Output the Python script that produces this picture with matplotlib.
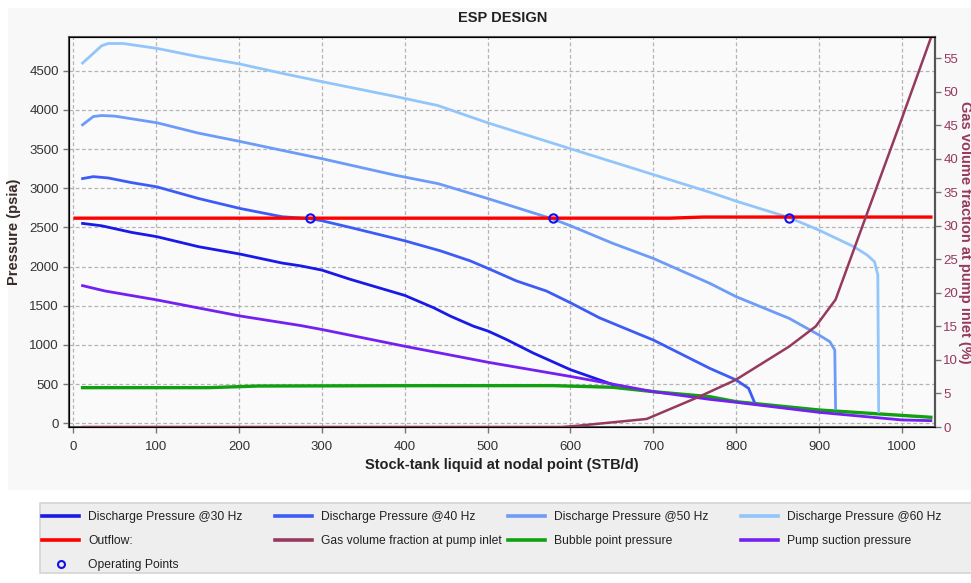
import matplotlib
matplotlib.use("Agg")
import matplotlib.pyplot as plt
from matplotlib.lines import Line2D
from matplotlib.patches import Rectangle

plt.rcParams['font.family'] = ['Liberation Sans', 'DejaVu Sans']

# discharge pressure curves (STB/d, psia)
q_30 = [11, 34, 70, 101, 151, 201, 252, 274, 300, 334, 400, 435, 455, 483, 501, 523, 555,
        600, 651]
p_30 = [2551, 2521, 2437, 2381, 2254, 2160, 2045, 2010, 1955, 1838, 1632, 1474, 1368, 1239,
        1175, 1068, 897, 684, 495]

q_40 = [11, 24, 42, 70, 101, 151, 201, 252, 285, 300, 334, 400, 443, 479, 501, 535,
        571, 600, 635, 684, 700, 768, 800, 815, 822]
p_40 = [3123, 3148, 3131, 3072, 3017, 2869, 2742, 2636, 2612, 2585, 2500, 2329, 2201,
        2073, 1974, 1816, 1688, 1538, 1346, 1132, 1063, 702, 553, 446, 270]

q_50 = [11, 24, 34, 50, 101, 151, 201, 252, 300, 389, 440, 500, 579, 600, 651, 700,
        768, 800, 864, 900, 913, 919, 920]
p_50 = [3809, 3915, 3928, 3920, 3835, 3703, 3597, 3483, 3377, 3165, 3059, 2869, 2606,
        2521, 2297, 2104, 1787, 1616, 1339, 1127, 1042, 935, 190]

q_60 = [11, 34, 42, 60, 101, 151, 201, 252, 300, 389, 440, 500, 600, 700, 767, 800,
        864, 900, 942, 958, 967, 971, 972]
p_60 = [4597, 4818, 4847, 4847, 4784, 4678, 4585, 4466, 4360, 4170, 4055, 3835, 3504,
        3174, 2953, 2835, 2625, 2465, 2254, 2148, 2062, 1892, 149]

q_outflow = [2, 720, 760, 1035]
p_outflow = [2618, 2618, 2632, 2632]

q_bubble = [11, 163, 223, 389, 579, 651, 700, 768, 800, 900, 1035]
p_bubble = [455, 455, 476, 480, 481, 460, 404, 340, 276, 170, 77]

q_suction = [11, 38, 101, 201, 274, 300, 400, 501, 600, 649, 700, 768, 800, 900, 1000, 1035]
p_suction = [1757, 1689, 1574, 1370, 1248, 1197, 983, 778, 598, 504, 404, 306, 268, 140, 43, 34]

# gas volume fraction at pump inlet (%)
q_gas = [12, 590, 610, 692, 755, 799, 864, 896, 920, 957, 1000, 1035]
gvf = [0, 0, 0.2, 1.2, 4.5, 7, 12, 15, 19, 31.5, 46, 58]

# operating points
q_op = [285, 579, 864]
p_op = [2620, 2620, 2625]

c30, c40, c50, c60 = '#1a1ae6', '#3d5cf5', '#6c9cf7', '#92c6fb'
c_out, c_gas, c_bub, c_suc = '#ff0000', '#96395f', '#10a010', '#7420f0'
c_txt = '#333333'

fig = plt.figure(figsize=(9.71, 5.83), dpi=100)
fig.patch.set_facecolor('white')
W, H = 971, 583
fig.patches.append(Rectangle((8 / W, 1 - 490 / H), 1, 482 / H, transform=fig.transFigure,
                             facecolor='#f8f8f8', edgecolor='none', zorder=-10))
fig.patches.append(Rectangle((40 / W, 1 - 573 / H), 1, 70 / H, transform=fig.transFigure,
                             facecolor='#eeeeee', edgecolor='#d4d4d4', lw=1.2, zorder=-10))

ax = fig.add_axes([69.3 / W, 1 - 427 / H, (935 - 69.3) / W, (427 - 37.3) / H])
ax.set_facecolor('#fafafa')
ax2 = ax.twinx()

lw = 2.0
ax.plot(q_30, p_30, color=c30, lw=lw, zorder=4)
ax.plot(q_40, p_40, color=c40, lw=lw, zorder=4)
ax.plot(q_50, p_50, color=c50, lw=lw, zorder=4)
ax.plot(q_60, p_60, color=c60, lw=lw, zorder=4)
ax.plot(q_outflow, p_outflow, color=c_out, lw=2.4, zorder=5)
ax.plot(q_bubble, p_bubble, color=c_bub, lw=2.4, zorder=3)
ax.plot(q_suction, p_suction, color=c_suc, lw=2.0, zorder=4)
ax.plot(q_op, p_op, ls='none', marker='o', ms=6, mfc='none', mec='#1010f0', mew=1.5, zorder=6)
ax2.plot(q_gas, gvf, color=c_gas, lw=1.8)

ax.set_xlim(-5, 1040)
ax.set_ylim(-47, 4926)
ax2.set_ylim(0, 58.1)
ax.set_xticks(range(0, 1001, 100))
ax.set_yticks(range(0, 4501, 500))
ax2.set_yticks(range(0, 56, 5))

ax.grid(True, ls=(0, (3, 2)), color='#b4b4b4', lw=0.9)
ax.set_axisbelow(True)

for s in ax.spines.values():
    s.set_color('#555555')
    s.set_linewidth(1.5)
ax2.spines['right'].set_color('#555555')
ax2.spines['right'].set_linewidth(1.5)

ax.tick_params(axis='both', labelsize=9.5, colors='#777777', labelcolor=c_txt, length=4, width=1)
ax.tick_params(axis='x', pad=6)
ax2.tick_params(axis='y', labelsize=9.5, colors='#777777', labelcolor=c_gas, length=4, width=1, pad=2)

ax.set_xlabel('Stock-tank liquid at nodal point (STB/d)', fontsize=10.5, fontweight='bold',
              color='#222222', labelpad=4)
ax.set_ylabel('Pressure (psia)', fontsize=10.5, fontweight='bold', color='#3a2a2a', labelpad=6)
ax2.set_ylabel('Gas volume fraction at pump inlet (%)', fontsize=10.5, fontweight='bold',
               color=c_gas, rotation=270, labelpad=10)

fig.text(503 / W, 1 - 18 / H, 'ESP DESIGN', ha='center', va='center', fontsize=10.5,
         fontweight='bold', color='#222222')

# legend, one column at a time
cols = [
    [('Discharge Pressure @30 Hz', c30, None), ('Outflow:', c_out, None), ('Operating Points', '#1010f0', 'o')],
    [('Discharge Pressure @40 Hz', c40, None), ('Gas volume fraction at pump inlet', c_gas, None)],
    [('Discharge Pressure @50 Hz', c50, None), ('Bubble point pressure', c_bub, None)],
    [('Discharge Pressure @60 Hz', c60, None), ('Pump suction pressure', c_suc, None)],
]
col_x = [42, 275, 508, 741]
for x0, entries in zip(col_x, cols):
    handles, labels = [], []
    for lab, col, mk in entries:
        if mk:
            handles.append(Line2D([], [], ls='none', marker='o', ms=5, mfc='none', mec=col, mew=1.5))
        else:
            handles.append(Line2D([], [], color=col, lw=2.6))
        labels.append(lab)
    fig.legend(handles, labels, loc='upper left', bbox_to_anchor=(x0 / W, 1 - 511 / H),
               frameon=False, fontsize=8.7, handlelength=3.1, handletextpad=0.7,
               borderpad=0, borderaxespad=0, labelspacing=1.0, labelcolor='#222222')

fig.savefig('out.png', dpi=100, facecolor=fig.get_facecolor())
